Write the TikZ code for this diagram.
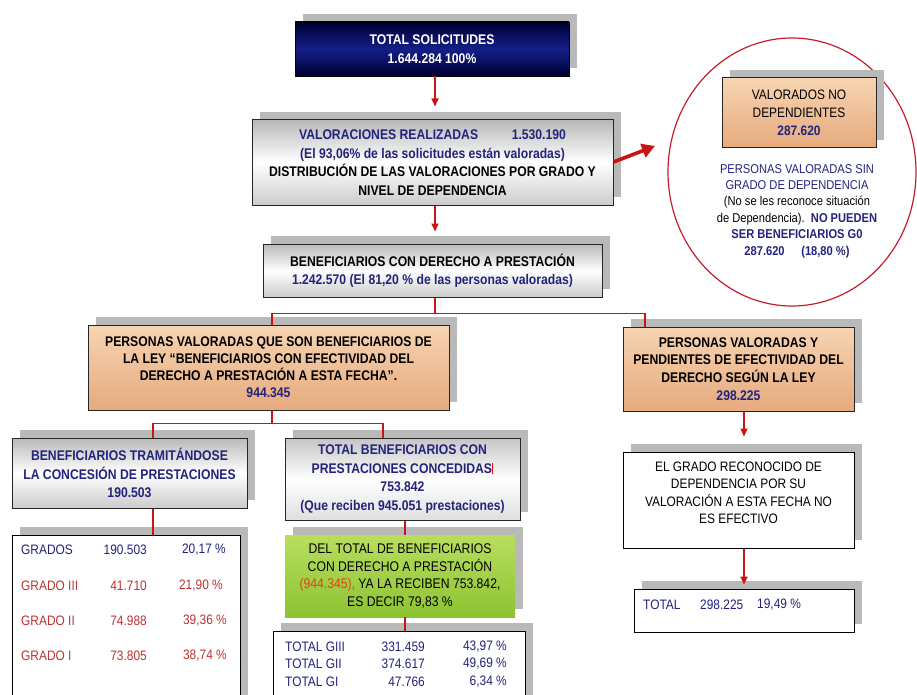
\documentclass[tikz,border=0pt]{standalone}
\usepackage{fontspec}
\setmainfont{Liberation Sans}[FakeStretch=0.87]
\usetikzlibrary{shadows,arrows.meta,shapes.geometric}
\definecolor{navy}{RGB}{35,35,125}
\definecolor{lred}{RGB}{200,20,20}
\definecolor{tred}{RGB}{190,50,50}
\definecolor{dk1}{RGB}{0,0,50}
\definecolor{dk2}{RGB}{20,30,135}
\definecolor{or1}{RGB}{247,212,178}
\definecolor{or2}{RGB}{230,170,125}
\definecolor{gr1}{RGB}{185,222,95}
\definecolor{gr2}{RGB}{140,195,50}
\definecolor{shd}{RGB}{185,185,185}
\definecolor{orng}{RGB}{220,70,20}
\definecolor{circred}{RGB}{195,30,45}
\begin{document}
\begin{tikzpicture}[x=1pt,y=-1pt,
  base/.style={rectangle, inner sep=0pt, align=center,
    font=\fontsize{14}{18.5}\selectfont\bfseries,
    general shadow={fill=shd, shadow xshift=8pt, shadow yshift=8pt}},
  titlebox/.style={base, draw=black, line width=0.8pt, text=white,
    top color=dk1, bottom color=dk1, middle color=dk2},
  graybox/.style={base, draw=black!85, line width=1pt,
    top color=gray!55, bottom color=gray!40, middle color=white},
  orbox/.style={base, draw=black!85, line width=1pt,
    top color=or1, bottom color=or2},
  greenbox/.style={base, top color=gr1, bottom color=gr2,
    font=\fontsize{14}{17.5}\selectfont},
  whitebox/.style={base, draw=black, line width=1pt, fill=white},
  plain/.style={inner sep=0pt, align=center, font=\fontsize{13.7}{17.5}\selectfont},
  tabtxt/.style={inner sep=0pt, font=\fontsize{13.7}{16}\selectfont},
  conn/.style={draw=lred, line width=1.6pt},
  arr/.style={conn, -{Triangle[length=8pt,width=7pt]}},
]
\useasboundingbox (0,0) rectangle (917,695);
\clip (0,0) rectangle (917,695);

% circle on the right
\node[ellipse, draw=circred, line width=1.2pt, minimum width=248pt,
  minimum height=268pt, inner sep=0pt] (circ) at (792,172) {};

% boxes
\node[titlebox, minimum width=274pt, minimum height=54pt] (tot) at (432,49)
  {TOTAL SOLICITUDES\\1.644.284 100\%};

\node[graybox, minimum width=361pt, minimum height=85pt] (val) at (432.5,162.5)
  {\textcolor{navy}{VALORACIONES REALIZADAS\hspace{2.4em}1.530.190}\\
   \textcolor{navy}{(El 93,06\% de las solicitudes están valoradas)}\\
   DISTRIBUCIÓN DE LAS VALORACIONES POR GRADO Y\\
   NIVEL DE DEPENDENCIA};

\node[orbox, minimum width=154pt, minimum height=70pt,
  font=\fontsize{13.7}{18}\selectfont] (vnd) at (799,113)
  {VALORADOS NO\\DEPENDIENTES\\\textcolor{navy}{\bfseries 287.620}};

\node[plain, font=\fontsize{12.8}{16.4}\selectfont] (ctx) at (797,211)
  {\textcolor{navy}{PERSONAS VALORADAS SIN}\\
   \textcolor{navy}{GRADO DE DEPENDENCIA}\\
   (No se les reconoce situación\\
   de Dependencia).\ \ \textcolor{navy}{\bfseries NO PUEDEN}\\
   \textcolor{navy}{\bfseries SER BENEFICIARIOS G0}\\
   \textcolor{navy}{\bfseries 287.620\hspace{1.3em}(18,80 \%)}};

\node[graybox, minimum width=339pt, minimum height=53pt] (ben) at (432.5,270.5)
  {BENEFICIARIOS CON DERECHO A PRESTACIÓN\\
   \textcolor{navy}{1.242.570 (El 81,20 \% de las personas valoradas)}};

\node[orbox, minimum width=361pt, minimum height=85pt,
  font=\fontsize{14}{17}\selectfont\bfseries] (lor) at (268.5,367.5)
  {PERSONAS VALORADAS QUE SON BENEFICIARIOS DE\\
   LA LEY “BENEFICIARIOS CON EFECTIVIDAD DEL\\
   DERECHO A PRESTACIÓN A ESTA FECHA”.\\
   \textcolor{navy}{944.345}};

\node[orbox, minimum width=231pt, minimum height=84pt,
  font=\fontsize{14}{17.7}\selectfont\bfseries] (ror) at (738.5,369)
  {PERSONAS VALORADAS Y\\PENDIENTES DE EFECTIVIDAD DEL\\
   DERECHO SEGÚN LA LEY\\\textcolor{navy}{298.225}};

\node[graybox, minimum width=235pt, minimum height=70pt, text=navy] (tra)
  at (129.5,473)
  {BENEFICIARIOS TRAMITÁNDOSE\\LA CONCESIÓN DE PRESTACIONES\\190.503};

\node[graybox, minimum width=235pt, minimum height=82pt, text=navy,
  top color=gray!45, bottom color=gray!25, middle color=white] (tbc)
  at (402.5,479)
  {TOTAL BENEFICIARIOS CON\\
   PRESTACIONES CONCEDIDAS\textcolor{red}{\rule[-1pt]{1.2pt}{11pt}}\\
   753.842\\(Que reciben 945.051 prestaciones)};

\node[greenbox, minimum width=230pt, minimum height=82pt] (grn) at (400,576)
  {DEL TOTAL DE BENEFICIARIOS\\CON DERECHO A PRESTACIÓN\\
   \textcolor{orng}{(944.345),} YA LA RECIBEN 753.842,\\ES DECIR 79,83 \%};

\node[whitebox, minimum width=228pt, minimum height=180pt] (tab1) at (126,625) {};
\node[whitebox, minimum width=252pt, minimum height=84pt] (tab2) at (399,673) {};

\node[whitebox, minimum width=231pt, minimum height=96pt] (egr) at (738.5,500) {};
\node[plain] (egrt) at (738.5,493)
  {EL GRADO RECONOCIDO DE\\DEPENDENCIA POR SU\\
   VALORACIÓN A ESTA FECHA NO\\ES EFECTIVO};

\node[whitebox, minimum width=220pt, minimum height=43pt] (tot2) at (744,610.5) {};

% table 1
\node[tabtxt, anchor=west, text=navy] (g0a) at (21,550) {GRADOS};
\node[tabtxt, anchor=east, text=navy] (g0b) at (147,550) {190.503};
\node[tabtxt, anchor=east, text=navy] (g0c) at (226,550) {20,17 \%};
\node[tabtxt, anchor=west, text=tred] (g3a) at (21,586) {GRADO III};
\node[tabtxt, anchor=east, text=tred] (g3b) at (147,586) {41.710};
\node[tabtxt, anchor=east, text=tred] (g3c) at (223,586) {21,90 \%};
\node[tabtxt, anchor=west, text=tred] (g2a) at (21,621) {GRADO II};
\node[tabtxt, anchor=east, text=tred] (g2b) at (147,621) {74.988};
\node[tabtxt, anchor=east, text=tred] (g2c) at (227,621) {39,36 \%};
\node[tabtxt, anchor=west, text=tred] (g1a) at (21,656) {GRADO I};
\node[tabtxt, anchor=east, text=tred] (g1b) at (147,656) {73.805};
\node[tabtxt, anchor=east, text=tred] (g1c) at (227,656) {38,74 \%};

% table 2
\node[tabtxt, anchor=west, text=navy] (t3a) at (285,647) {TOTAL GIII};
\node[tabtxt, anchor=east, text=navy] (t3b) at (425,647) {331.459};
\node[tabtxt, anchor=east, text=navy] (t3c) at (507,647) {43,97 \%};
\node[tabtxt, anchor=west, text=navy] (t2a) at (285,664) {TOTAL GII};
\node[tabtxt, anchor=east, text=navy] (t2b) at (425,664) {374.617};
\node[tabtxt, anchor=east, text=navy] (t2c) at (507,664) {49,69 \%};
\node[tabtxt, anchor=west, text=navy] (t1a) at (285,682) {TOTAL GI};
\node[tabtxt, anchor=east, text=navy] (t1b) at (425,682) {47.766};
\node[tabtxt, anchor=east, text=navy] (t1c) at (507,682) {6,34 \%};

% total right
\node[tabtxt, anchor=west, text=navy] (rta) at (643,605) {TOTAL};
\node[tabtxt, anchor=west, text=navy] (rtb) at (700,605) {298.225};
\node[tabtxt, anchor=west, text=navy] (rtc) at (757,605) {19,49 \%};

% connectors
\draw[arr] ([xshift=3pt]tot.south) -- ([xshift=2.5pt,yshift=13pt]val.north);
\draw[arr] ([xshift=2.5pt]val.south) -- ([xshift=2.5pt,yshift=12pt]ben.north);
\coordinate (cpt) at (655,146);
\draw[lred, line width=3.6pt, -{Triangle[length=13pt,width=14pt]}]
  ([yshift=0.5pt]val.east) -- (cpt);

\coordinate (bj) at ([xshift=2.5pt,yshift=-16pt]ben.south);
\draw[conn] ([xshift=2.5pt]ben.south) -- (bj);
\draw[conn] (bj) -| ([xshift=3.5pt]lor.north);
\draw[conn] (bj) -| ([xshift=-93.5pt]ror.north);

\coordinate (lj) at ([xshift=3.5pt,yshift=-13pt]lor.south);
\draw[conn] ([xshift=3.5pt]lor.south) -- (lj);
\draw[conn] (lj) -| ([xshift=23.5pt]tra.north);
\draw[conn] (lj) -| ([xshift=-19.5pt]tbc.north);

\draw[conn] ([xshift=23.5pt]tra.south) -- ([xshift=23.5pt]tra.south |- tab1.north);
\draw[conn] ([xshift=2.5pt]tbc.south) -- ([xshift=2.5pt]tbc.south |- grn.north);
\draw[conn] ([xshift=2.5pt]tbc.south |- grn.south) -- ([xshift=2.5pt]tbc.south |- tab2.north);

\draw[arr] ([xshift=5.5pt]ror.south) -- ([xshift=5.5pt,yshift=15pt]egr.north);
\draw[arr] ([xshift=5.5pt]egr.south) -- ([yshift=4pt]tot2.north);
\end{tikzpicture}
\end{document}
